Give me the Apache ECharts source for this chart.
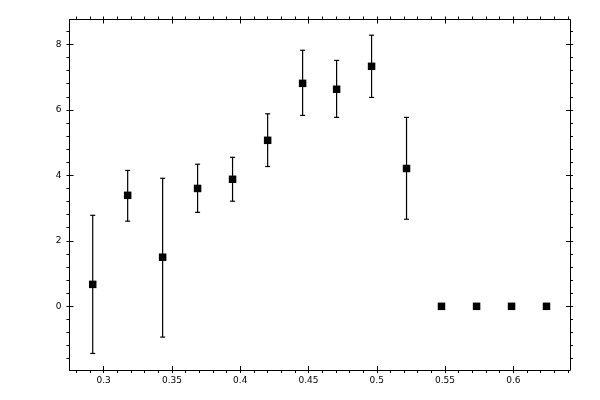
<!DOCTYPE html>
<html>
<head>
<meta charset="utf-8">
<script src="https://cdn.jsdelivr.net/npm/echarts@6/dist/echarts.min.js"></script>
<style>html,body{margin:0;padding:0;background:#fff}#c{width:600px;height:400px}</style>
</head>
<body>
<div id="c"></div>
<script>
// Data
const xValues = [0.2920, 0.3176, 0.3432, 0.3688, 0.3944, 0.4201, 0.4457, 0.4706, 0.4962, 0.5218, 0.5474, 0.5731, 0.5987, 0.6243];
const yValues = [0.67, 3.39, 1.50, 3.60, 3.88, 5.07, 6.81, 6.63, 7.33, 4.21, 0, 0, 0, 0];
const errHigh = [2.78, 4.15, 3.91, 4.34, 4.55, 5.88, 7.82, 7.51, 8.28, 5.77, null, null, null, null];
const errLow  = [-1.44, 2.60, -0.94, 2.87, 3.21, 4.27, 5.83, 5.77, 6.38, 2.66, null, null, null, null];

// Tick labels / tick positions
const xMajorTicks = [0.3, 0.35, 0.4, 0.45, 0.5, 0.55, 0.6];
const xAllTicks = [0.28, 0.29, 0.3, 0.31, 0.32, 0.33, 0.34, 0.35, 0.36, 0.37, 0.38, 0.39, 0.4, 0.41, 0.42, 0.43, 0.44, 0.45,
  0.46, 0.47, 0.48, 0.49, 0.5, 0.51, 0.52, 0.53, 0.54, 0.55, 0.56, 0.57, 0.58, 0.59, 0.6, 0.61, 0.62, 0.63, 0.64];
const yMajorTicks = [0, 2, 4, 6, 8];
const yAllTicks = [-1.6, -1.2, -0.8, -0.4, 0, 0.4, 0.8, 1.2, 1.6, 2, 2.4, 2.8, 3.2, 3.6, 4, 4.4, 4.8, 5.2, 5.6, 6,
  6.4, 6.8, 7.2, 7.6, 8, 8.4];

const xMin = 0.275, xMax = 0.6415;
const yMin = -1.945, yMax = 8.76;

const points = xValues.map((x, i) => [x, yValues[i]]);
const bars = [];
xValues.forEach((x, i) => { if (errHigh[i] != null) bars.push([x, errLow[i], errHigh[i]]); });

const font = { fontFamily: 'DejaVu Sans', fontSize: 9, color: '#000' };
const tickStyle = { color: '#000', width: 1 };

function axisDef(kind, pos, main, inner) {
  const isX = kind === 'x';
  return {
    type: 'value', position: pos,
    min: isX ? xMin : yMin, max: isX ? xMax : yMax,
    axisLine: { show: !inner, onZero: false, lineStyle: { color: '#000', width: 1 } },
    axisTick: {
      show: true, inside: inner, length: inner ? 4 : 3, lineStyle: tickStyle,
      customValues: inner ? (isX ? xMajorTicks : yMajorTicks) : (isX ? xAllTicks : yAllTicks)
    },
    minorTick: { show: false },
    axisLabel: main
      ? Object.assign({ show: true, margin: isX ? 6 : 8, customValues: isX ? xMajorTicks : yMajorTicks }, font)
      : { show: false },
    splitLine: { show: false }, minorSplitLine: { show: false }
  };
}

const chart = echarts.init(document.getElementById('c'), null, { renderer: 'canvas' });
chart.setOption({
  animation: false,
  backgroundColor: '#fff',
  grid: { left: 69.5, right: 30, top: 19.5, bottom: 30, containLabel: false },
  xAxis: [axisDef('x', 'bottom', true, false), axisDef('x', 'bottom', false, true),
          axisDef('x', 'top', false, false), axisDef('x', 'top', false, true)],
  yAxis: [axisDef('y', 'left', true, false), axisDef('y', 'left', false, true),
          axisDef('y', 'right', false, false), axisDef('y', 'right', false, true)],
  series: [
    {
      type: 'custom', xAxisIndex: 0, yAxisIndex: 0, data: bars, z: 2,
      renderItem: function (params, api) {
        const x = api.value(0), lo = api.value(1), hi = api.value(2);
        const a = api.coord([x, lo]), b = api.coord([x, hi]);
        const hw = 2.5, st = { stroke: '#000', lineWidth: 1.2 };
        return { type: 'group', children: [
          { type: 'line', shape: { x1: a[0], y1: a[1], x2: b[0], y2: b[1] }, style: st },
          { type: 'line', shape: { x1: a[0] - hw, y1: a[1], x2: a[0] + hw, y2: a[1] }, style: st },
          { type: 'line', shape: { x1: b[0] - hw, y1: b[1], x2: b[0] + hw, y2: b[1] }, style: st }
        ] };
      }
    },
    {
      type: 'scatter', xAxisIndex: 0, yAxisIndex: 0, data: points, z: 3,
      symbol: 'rect', symbolSize: 7.5, itemStyle: { color: '#000', opacity: 1 }
    }
  ]
});
</script>
</body>
</html>
